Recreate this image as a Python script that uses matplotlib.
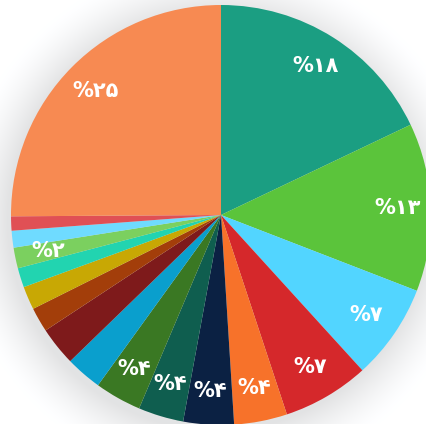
import numpy as np
import matplotlib
matplotlib.use("Agg")
import matplotlib.pyplot as plt

# slice shares (percent), clockwise from 12 o'clock
shares = [18, 13, 7.4, 6.7, 4.1, 3.9, 3.5, 3.6, 2.8, 3.0, 1.9, 1.8, 1.5, 1.6, 1.3, 1.1, 25.2]
colors = ["#1b9e82", "#5bc43b", "#52d5ff", "#d5282b", "#f7722a", "#0b2143",
          "#0f5e4f", "#3a7823", "#0a9fcd", "#7e1a1b", "#a33e0a", "#c8a804",
          "#22d4b0", "#7bd05f", "#6fdbff", "#e05055", "#f78a52"]
labels = ["%۱۸", "%۱۳", "%۷", "%۷", "%۴", "%۴", "%۴", "%۴", "", "", "", "",
          "", "%۲", "", "", "%۲۵"]

W, H = 426, 424
cx, cy, R = 221, 209, 210

fig = plt.figure(figsize=(W / 100, H / 100), dpi=100)
ax = fig.add_axes([0, 0, 1, 1])

# soft grey halo behind the pie
yy, xx = np.mgrid[0:H, 0:W]
rr = np.hypot(xx - cx + 4, yy - cy + 6)
shade = np.clip(1 - (rr - R) / 50, 0, 1) ** 1.5 * 0.11
bg = 1 - shade
ax.imshow(np.dstack([bg, bg * 1.002, bg * 1.006]).clip(0, 1), extent=(0, W, 0, H),
          origin="lower", zorder=0)

wedges, texts = ax.pie(shares, colors=colors, startangle=90, counterclock=False,
                       center=(cx, cy), radius=R, labels=labels, labeldistance=0.84,
                       wedgeprops=dict(linewidth=0), frame=True,
                       textprops=dict(color="white", fontsize=15, fontweight="bold",
                                      family="DejaVu Sans"))
for t in texts:
    t.set_horizontalalignment("center")
    t.set_verticalalignment("center")
ax.set_xlim(0, W)
ax.set_ylim(0, H)
ax.axis("off")

fig.savefig("out.png", dpi=100)
